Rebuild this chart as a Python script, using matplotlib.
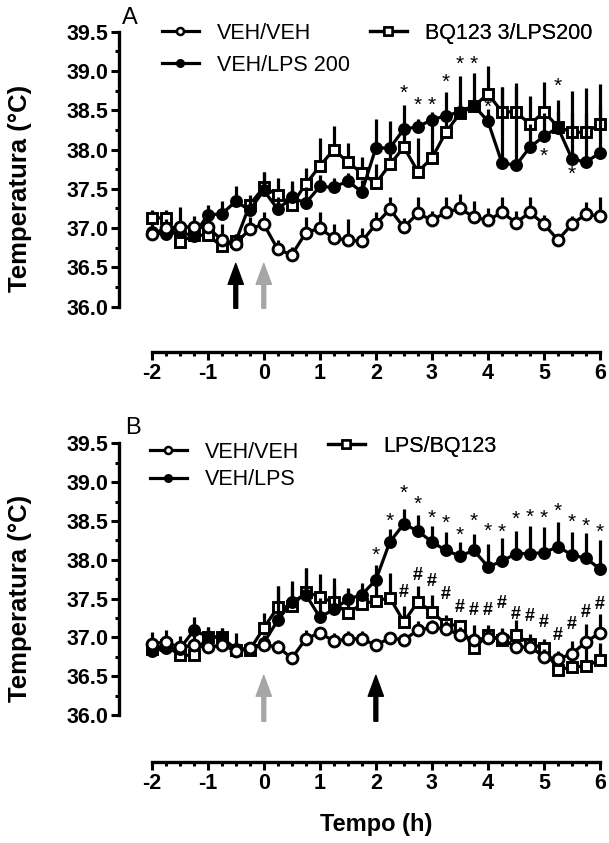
import numpy as np
import matplotlib
matplotlib.use('Agg')
import matplotlib.pyplot as plt
from matplotlib.lines import Line2D

plt.rcParams['font.family'] = ['Liberation Sans', 'DejaVu Sans']
plt.rcParams['axes.unicode_minus'] = False

tempo = [-2, -1.75, -1.5, -1.25, -1, -0.75, -0.5, -0.25, 0, 0.25, 0.5, 0.75,
         1, 1.25, 1.5, 1.75, 2, 2.25, 2.5, 2.75, 3, 3.25, 3.5, 3.75,
         4, 4.25, 4.5, 4.75, 5, 5.25, 5.5, 5.75, 6]

# painel A
a_veh = [36.92, 37.00, 37.02, 37.01, 37.01, 36.85, 36.80, 36.99, 37.05, 36.73, 36.66, 36.94,
         37.00, 36.87, 36.85, 36.83, 37.05, 37.24, 37.01, 37.19, 37.10, 37.20, 37.25, 37.14,
         37.10, 37.20, 37.07, 37.20, 37.05, 36.85, 37.05, 37.18, 37.15]
a_veh_err = [0.12, 0.12, 0.25, 0.15, 0.15, 0.2, 0.12, 0.15, 0.15, 0.12, 0.1, 0.2,
             0.2, 0.18, 0.26, 0.17, 0.15, 0.15, 0.12, 0.2, 0.12, 0.2, 0.18, 0.2,
             0.15, 0.2, 0.15, 0.2, 0.12, 0.07, 0.1, 0.15, 0.25]
a_lps = [36.95, 36.92, 36.95, 36.90, 37.17, 37.18, 37.34, 37.23, 37.48, 37.24, 37.39, 37.32,
         37.53, 37.52, 37.60, 37.46, 38.02, 38.02, 38.26, 38.29, 38.38, 38.43, 38.48, 38.56,
         38.36, 37.83, 37.80, 38.03, 38.17, 38.28, 37.88, 37.84, 37.96]
a_lps_err = [0.1, 0.1, 0.1, 0.1, 0.13, 0.16, 0.2, 0.12, 0.24, 0.15, 0.21, 0.2,
             0.15, 0.12, 0.1, 0.15, 0.37, 0.34, 0.31, 0.1, 0.1, 0.3, 0.45, 0.42,
             0.15, 0.96, 1.0, 0.3, 0.3, 0.35, 0.86, 0.94, 0.88]
a_bq = [37.13, 37.13, 36.82, 36.91, 36.91, 36.77, 36.83, 37.30, 37.52, 37.42, 37.30, 37.56,
        37.79, 38.00, 37.84, 37.70, 37.57, 37.81, 38.03, 37.72, 37.89, 38.22, 38.46, 38.55,
        38.71, 38.48, 38.48, 38.32, 38.48, 38.29, 38.22, 38.22, 38.32]
a_bq_err = [0.1, 0.1, 0.15, 0.15, 0.15, 0.1, 0.1, 0.12, 0.2, 0.22, 0.25, 0.2,
            0.36, 0.3, 0.24, 0.21, 0.25, 0.3, 0.3, 0.43, 0.47, 0.2, 0.15, 0.1,
            0.35, 0.31, 0.37, 0.36, 0.38, 0.2, 0.25, 0.25, 0.25]
a_estrela_t = [2.5, 2.75, 3, 3.25, 3.5, 3.75, 4, 5, 5.25, 5.5]
a_estrela_y = [38.71, 38.56, 38.56, 38.85, 39.08, 39.08, 38.54, 37.92, 38.80, 37.68]
a_setas_t = [-0.5, 0]
a_setas_cor = ['black', '#a6a6a6']

# painel B
b_veh = [36.92, 36.94, 36.87, 36.90, 36.87, 36.90, 36.83, 36.86, 36.90, 36.88, 36.73, 36.98,
         37.06, 36.95, 36.98, 36.98, 36.90, 36.99, 36.97, 37.09, 37.13, 37.11, 37.03, 36.97,
         36.99, 36.99, 36.87, 36.88, 36.75, 36.72, 36.79, 36.94, 37.06]
b_veh_err = [0.15, 0.15, 0.15, 0.12, 0.15, 0.15, 0.1, 0.08, 0.1, 0.08, 0.05, 0.12,
             0.08, 0.1, 0.1, 0.1, 0.08, 0.08, 0.08, 0.12, 0.1, 0.1, 0.1, 0.1,
             0.12, 0.12, 0.1, 0.1, 0.1, 0.06, 0.16, 0.23, 0.24]
b_lps = [36.82, 36.86, 36.85, 37.09, 37.01, 37.00, 36.85, 36.85, 36.93, 37.22, 37.46, 37.55,
         37.26, 37.36, 37.49, 37.55, 37.74, 38.23, 38.46, 38.37, 38.23, 38.12, 38.05, 38.12,
         37.91, 37.98, 38.08, 38.08, 38.09, 38.17, 38.06, 38.02, 37.88]
b_lps_err = [0.1, 0.1, 0.1, 0.17, 0.12, 0.12, 0.2, 0.05, 0.1, 0.44, 0.26, 0.34,
             0.25, 0.3, 0.15, 0.15, 0.19, 0.16, 0.19, 0.21, 0.2, 0.24, 0.18, 0.21,
             0.29, 0.3, 0.29, 0.36, 0.33, 0.31, 0.3, 0.32, 0.37]
b_bq = [36.85, 36.90, 36.77, 36.77, 37.01, 37.00, 36.84, 36.84, 37.12, 37.39, 37.40, 37.59,
        37.52, 37.45, 37.31, 37.43, 37.47, 37.51, 37.20, 37.46, 37.33, 37.17, 37.15, 36.86,
        37.03, 36.97, 37.03, 36.92, 36.86, 36.58, 36.62, 36.63, 36.71]
b_bq_err = [0.1, 0.1, 0.15, 0.15, 0.12, 0.12, 0.1, 0.1, 0.2, 0.27, 0.25, 0.3,
            0.3, 0.32, 0.3, 0.2, 0.25, 0.32, 0.2, 0.2, 0.22, 0.12, 0.08, 0.3,
            0.13, 0.15, 0.2, 0.12, 0.12, 0.25, 0.2, 0.35, 0.22]
b_estrela_t = [2, 2.25, 2.5, 2.75, 3, 3.25, 3.5, 3.75, 4, 4.25, 4.5, 4.75, 5, 5.25, 5.5, 5.75, 6]
b_estrela_y = [38.06, 38.50, 38.85, 38.72, 38.53, 38.47, 38.32, 38.49, 38.37, 38.35,
               38.52, 38.55, 38.53, 38.63, 38.48, 38.43, 38.35]
b_cerquilha_t = [2.5, 2.75, 3, 3.25, 3.5, 3.75, 4, 4.25, 4.5, 4.75, 5, 5.25, 5.5, 5.75, 6]
b_cerquilha_y = [37.58, 37.80, 37.72, 37.55, 37.38, 37.34, 37.34, 37.43, 37.29, 37.27,
                 37.19, 37.02, 37.16, 37.32, 37.42]
b_setas_t = [0, 2]
b_setas_cor = ['#a6a6a6', 'black']

W, H = 609, 843
fig = plt.figure(figsize=(W / 100, H / 100), dpi=100)

estilos = {
    'aberto': dict(marker='o', mfc='white', ms=7.8),
    'cheio': dict(marker='o', mfc='black', ms=7.2),
    'quadrado': dict(marker='s', mfc='white', ms=7.8),
}


def serie(ax, y, err, estilo, z):
    cont = ax.errorbar(tempo, y, yerr=[np.zeros(len(err)), err], color='black',
                       mec='black', mew=2.1, lw=2.3, elinewidth=2.3, capsize=0,
                       zorder=z, **estilos[estilo])
    cont.lines[0].set_clip_on(False)
    for c in cont.lines[2]:
        c.set_clip_on(False)


def handle(estilo):
    return Line2D([], [], color='black', mec='black', mew=1.8, lw=2.3, **estilos[estilo])


def legenda(ax, estilos_leg, nomes, x, y, esp):
    leg = ax.legend([handle(e) for e in estilos_leg], nomes, loc='upper left',
                    bbox_to_anchor=(x / W, 1 - y / H), bbox_transform=fig.transFigure,
                    frameon=False, borderpad=0, borderaxespad=0, handlelength=1.7,
                    handletextpad=0.85, labelspacing=esp, markerscale=0.65, fontsize=15.5)
    ax.add_artist(leg)


def eixo(ax, off_x):
    ax.set_xlim(-2, 6)
    ax.set_ylim(36, 39.5)
    for s in ['top', 'right']:
        ax.spines[s].set_visible(False)
    ax.spines['left'].set_position(('outward', 23.3))
    ax.spines['bottom'].set_position(('outward', off_x))
    ax.spines['left'].set_bounds(36, 39.5)
    ax.spines['bottom'].set_bounds(-2, 6)
    ax.spines['left'].set_linewidth(2.4)
    ax.spines['bottom'].set_linewidth(2.4)
    ax.set_yticks(np.arange(36, 39.6, 0.5))
    ax.set_yticks(np.arange(36.25, 39.5, 0.5), minor=True)
    ax.set_xticks(np.arange(-2, 6.1, 1))
    ax.set_xticks(np.arange(-2, 6.1, 0.25), minor=True)
    ax.set_yticklabels(['%.1f' % v for v in np.arange(36, 39.6, 0.5)])
    ax.tick_params(which='major', length=6, width=2.2, labelsize=15.5, pad=2)
    ax.tick_params(which='minor', length=3, width=2.2)
    for lab in ax.get_xticklabels() + ax.get_yticklabels():
        lab.set_fontweight('bold')
    ax.set_ylabel('Temperatura (°C)', fontsize=18.5, fontweight='bold')
    ax.yaxis.set_label_coords(-0.268, 0.43)


def setas(ax, ts, cores, y0, y1):
    for t, c in zip(ts, cores):
        ax.annotate('', xy=(t, y1), xytext=(t, y0),
                    arrowprops=dict(facecolor=c, edgecolor=c, width=2.8, headwidth=11,
                                    headlength=15, shrink=0),
                    annotation_clip=False)


# ---- A ----
axA = fig.add_axes([151.7 / W, 1 - 306.7 / H, 448.3 / W, 275 / H])
eixo(axA, 32.4)
serie(axA, a_bq, a_bq_err, 'quadrado', 3)
serie(axA, a_lps, a_lps_err, 'cheio', 4)
serie(axA, a_veh, a_veh_err, 'aberto', 5)
for t, y in zip(a_estrela_t, a_estrela_y):
    axA.text(t, y, '*', ha='center', va='center', fontsize=15, zorder=6)
setas(axA, a_setas_t, a_setas_cor, 35.98, 36.55)
legenda(axA, ['aberto', 'cheio'], ['VEH/VEH', 'VEH/LPS 200'], 162, 23, 0.5)
legenda(axA, ['quadrado'], ['BQ123 3/LPS200'], 370, 23, 0.5)
fig.text(130 / W, 1 - 18 / H, 'A', fontsize=17, ha='center', va='center')

# ---- B ----
axB = fig.add_axes([151.7 / W, 1 - 715 / H, 448.3 / W, 271.7 / H])
eixo(axB, 33.6)
serie(axB, b_bq, b_bq_err, 'quadrado', 3)
serie(axB, b_lps, b_lps_err, 'cheio', 4)
serie(axB, b_veh, b_veh_err, 'aberto', 5)
for t, y in zip(b_estrela_t, b_estrela_y):
    axB.text(t, y, '*', ha='center', va='center', fontsize=15, zorder=6)
for t, y in zip(b_cerquilha_t, b_cerquilha_y):
    axB.text(t, y, '#', ha='center', va='center', fontsize=13, fontweight='bold', zorder=6)
setas(axB, b_setas_t, b_setas_cor, 35.92, 36.51)
legenda(axB, ['aberto', 'cheio'], ['VEH/VEH', 'VEH/LPS'], 150, 442, 0.3)
legenda(axB, ['quadrado'], ['LPS/BQ123'], 328, 436, 0.3)
fig.text(133 / W, 1 - 428 / H, 'B', fontsize=17, ha='center', va='center')
axB.set_xlabel('Tempo (h)', fontsize=17, fontweight='bold')
axB.xaxis.set_label_coords(0.5, -0.36)

fig.savefig('out.png', dpi=100)
